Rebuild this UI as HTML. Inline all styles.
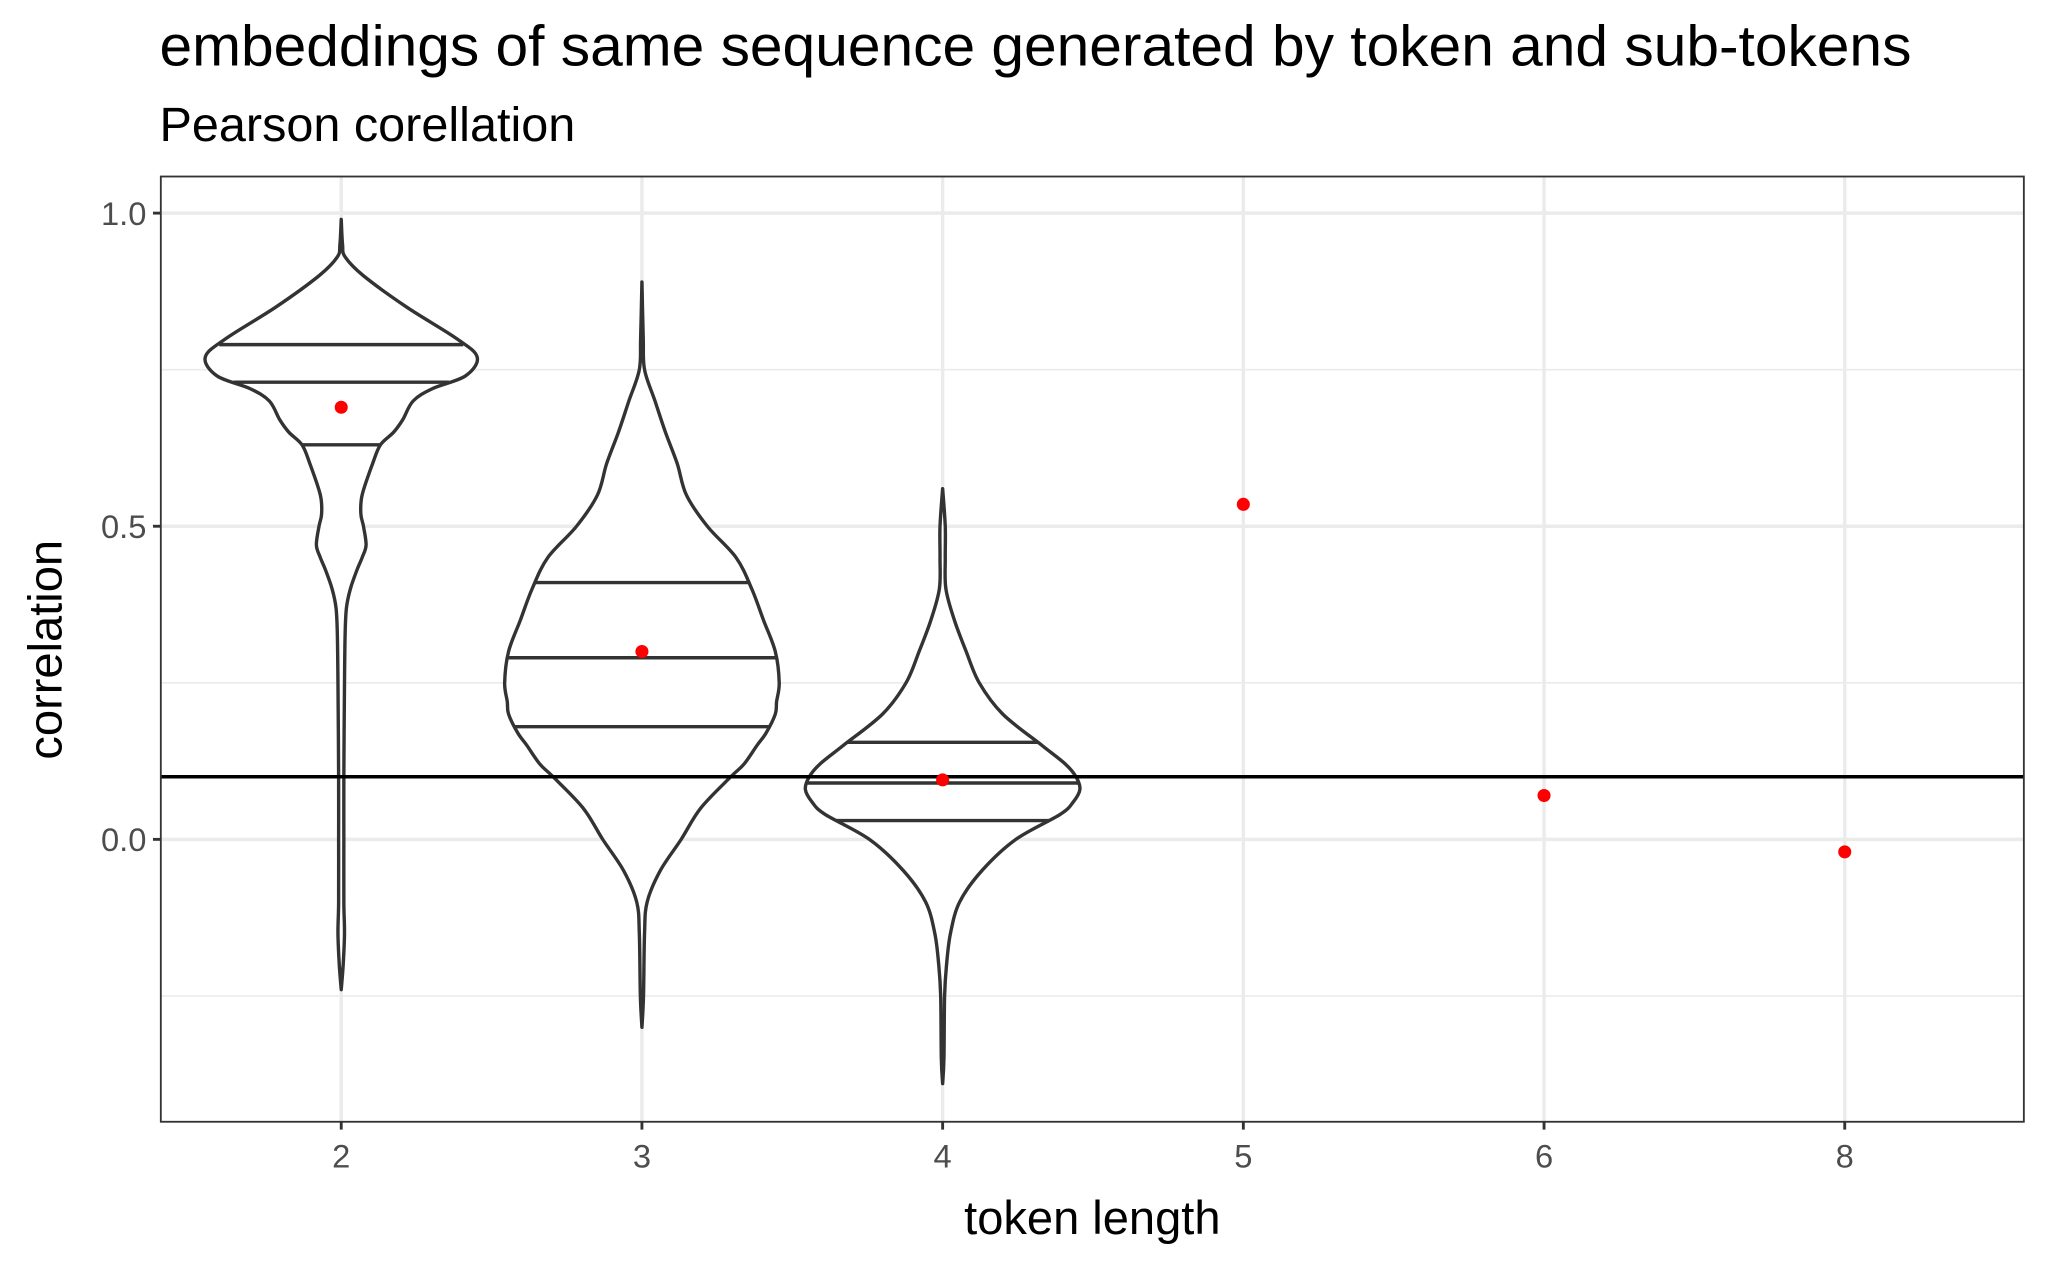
<!DOCTYPE html>
<html><head><meta charset="utf-8"><style>
html,body{margin:0;padding:0;background:#fff;}
svg{display:block;font-family:"Liberation Sans",Arial,sans-serif;}
</style></head><body>
<svg id="chart" width="2050" height="1269" viewBox="0 0 1568 970.6" xmlns="http://www.w3.org/2000/svg">
<text x="122" y="50" font-size="44" textLength="1340" lengthAdjust="spacingAndGlyphs" fill="#000">embeddings of same sequence generated by token and sub-tokens</text>
<text x="122" y="108" font-size="37" textLength="318" lengthAdjust="spacingAndGlyphs" fill="#000">Pearson corellation</text>
<g id="plot"></g>
<text x="835.5" y="944" font-size="36" text-anchor="middle" fill="#000">token length</text>
<text transform="translate(47,497) rotate(-90)" font-size="36" text-anchor="middle" fill="#000">correlation</text>
</svg>
<script>
const categories = ["2","3","4","5","6","8"];
const means = [0.69, 0.30, 0.095, 0.535, 0.07, -0.02];
const yTicks = [0.0, 0.5, 1.0];
const yTickLabels = ["0.0","0.5","1.0"];
const yMinorTicks = [-0.25, 0.25, 0.75];
const refLine = 0.1;
// violin profiles: [correlation, density half-width]
const violin2 = [[0.99,0],[0.95,0.01],[0.93,0.03],[0.9,0.17],[0.85,0.50],[0.8,0.88],[0.77,1.04],[0.74,0.95],[0.72,0.70],[0.7,0.55],[0.67,0.47],[0.65,0.40],[0.63,0.30],[0.6,0.24],[0.55,0.16],[0.52,0.15],[0.5,0.17],[0.47,0.19],[0.45,0.16],[0.43,0.12],[0.4,0.07],[0.37,0.04],[0.33,0.03],[0.25,0.025],[0.1,0.02],[0.0,0.02],[-0.1,0.02],[-0.15,0.025],[-0.2,0.015],[-0.24,0]];
const violin3 = [[0.89,0],[0.8,0.01],[0.75,0.02],[0.7,0.10],[0.65,0.18],[0.6,0.27],[0.55,0.34],[0.5,0.50],[0.45,0.72],[0.4,0.84],[0.35,0.93],[0.3,1.02],[0.25,1.05],[0.22,1.03],[0.2,1.02],[0.17,0.95],[0.15,0.88],[0.12,0.78],[0.1,0.68],[0.05,0.45],[0.0,0.30],[-0.05,0.14],[-0.1,0.04],[-0.15,0.02],[-0.25,0.012],[-0.3,0]];
const violin4 = [[0.56,0],[0.5,0.02],[0.45,0.02],[0.4,0.025],[0.35,0.09],[0.3,0.18],[0.25,0.28],[0.2,0.46],[0.15,0.76],[0.12,0.94],[0.1,1.02],[0.08,1.05],[0.06,1.0],[0.04,0.90],[0.0,0.56],[-0.05,0.30],[-0.1,0.13],[-0.15,0.06],[-0.2,0.03],[-0.25,0.015],[-0.35,0.01],[-0.39,0]];
const quant2 = [0.63, 0.73, 0.79];
const quant3 = [0.18, 0.29, 0.41];
const quant4 = [0.03, 0.09, 0.155];
const violins = [violin2, violin3, violin4];
const quants = [quant2, quant3, quant4];

const P = {l:123, r:1548, t:135, b:858};
const NS = "http://www.w3.org/2000/svg";
const y = v => 642 - v*479;
const x = i => 261 + i*230;
const wScale = 100;
const g = document.getElementById('plot');
function mk(tag, attrs){const e=document.createElementNS(NS,tag);for(const k in attrs)e.setAttribute(k,attrs[k]);g.appendChild(e);return e;}

yMinorTicks.forEach(v=>{const e=mk('line',{x1:P.l,x2:P.r,y1:y(v),y2:y(v),stroke:'#ebebeb','stroke-width':1.3});

});
yTicks.forEach((v,i)=>{const e=mk('line',{x1:P.l,x2:P.r,y1:y(v),y2:y(v),stroke:'#ebebeb','stroke-width':2.6});


const t=mk('line',{x1:P.l-6,x2:P.l,y1:y(v),y2:y(v),stroke:'#333','stroke-width':2.2});


const l=mk('text',{x:P.l-11,y:y(v)+9,'font-size':25,'text-anchor':'end',fill:'#4d4d4d'});l.textContent=yTickLabels[i];

});
categories.forEach((c,i)=>{const e=mk('line',{x1:x(i),x2:x(i),y1:P.t,y2:P.b,stroke:'#ebebeb','stroke-width':2.6});


const t=mk('line',{x1:x(i),x2:x(i),y1:P.b,y2:P.b+6,stroke:'#333','stroke-width':2.2});


const l=mk('text',{x:x(i),y:P.b+35,'font-size':25,'text-anchor':'middle',fill:'#4d4d4d'});l.textContent=c;

});

function halfAt(prof,v){for(let k=0;k<prof.length-1;k++){const a=prof[k],b=prof[k+1];if(v<=a[0]&&v>=b[0]){const f=(a[0]-v)/(a[0]-b[0]);return a[1]+(b[1]-a[1])*f;}}return 0;}
function smooth(pts){let d='M'+pts[0][0]+','+pts[0][1];for(let i=0;i<pts.length-1;i++){const p0=pts[Math.max(0,i-1)],p1=pts[i],p2=pts[i+1],p3=pts[Math.min(pts.length-1,i+2)];
const c1=[p1[0]+(p2[0]-p0[0])/6,p1[1]+(p2[1]-p0[1])/6],c2=[p2[0]-(p3[0]-p1[0])/6,p2[1]-(p3[1]-p1[1])/6];
d+=' C'+c1[0]+','+c1[1]+' '+c2[0]+','+c2[1]+' '+p2[0]+','+p2[1];}return d;}
violins.forEach((prof,i)=>{
  const cx=x(i);
  const right=prof.map(p=>[cx+p[1]*wScale,y(p[0])]);
  const left=prof.slice().reverse().map(p=>[cx-p[1]*wScale,y(p[0])]);
  const d=smooth(right)+' L'+smooth(left).slice(1)+' Z';
  const e=mk('path',{d:d,fill:'#fff',stroke:'#333','stroke-width':2.6,'stroke-linejoin':'round'});
  
  
  quants[i].forEach(q=>{const h=halfAt(prof,q)*wScale;const l=mk('line',{x1:cx-h,x2:cx+h,y1:y(q),y2:y(q),stroke:'#333','stroke-width':2.6});
  
  });
});
const rl=mk('line',{x1:P.l,x2:P.r,y1:y(refLine),y2:y(refLine),stroke:'#000','stroke-width':2.6});


means.forEach((m,i)=>{const c=mk('circle',{cx:x(i),cy:y(m),r:5,fill:'#ff0000'});

});
const fr=mk('rect',{x:P.l,y:P.t,width:P.r-P.l,height:P.b-P.t,fill:'none',stroke:'#333','stroke-width':1.4});


</script>
</body></html>
